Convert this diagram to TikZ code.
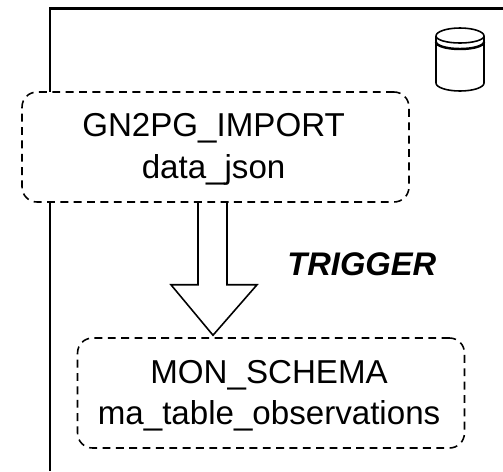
\documentclass[tikz,border=0pt]{standalone}
\usepackage{fontspec}
\setmainfont{Liberation Sans}
\newcommand{\lineshift}{\kern2.2pt}
\newcommand{\linedrop}{\rule{0pt}{16pt}}
\tikzset{
    tablebox/.style={draw,fill=white,line width=0.9pt,dash pattern=on 4.5pt off 3.1pt,
        rounded corners=8.5pt,minimum width=7.74cm,minimum height=2.2cm,
        align=center,font=\fontsize{18.85}{23.5}\selectfont},
    frameline/.style={line width=1.15pt},
    arrowline/.style={line width=0.9pt,line join=miter}
}
\begin{document}
\begin{tikzpicture}[x=0.02cm,y=-0.02cm]
\useasboundingbox (0,0) rectangle (503,471);
\draw [frameline]
    (50,471) -- (50,8.5) -- (503,8.5);
\path
    (215.5,147) node [tablebox] (gnimport) {\linedrop GN2PG\_IMPORT\lineshift\\data\_json\lineshift}
    (271,393) node [tablebox] (monschema) {\linedrop MON\_SCHEMA\lineshift\\ma\_table\_observations\lineshift};
\path
    (287,264) node [anchor=west,font=\fontsize{18.6}{22}\selectfont\bfseries\itshape,inner sep=0pt] (trigger) {TRIGGER};
\draw
    [arrowline]
    (gnimport.south) +(-17.5,0) coordinate (sleft)
    (gnimport.south) +(11.5,0) coordinate (sright)
    (gnimport.south) +(-44.5,82) coordinate (hleft)
    (gnimport.south) +(41.5,82) coordinate (hright)
    (monschema.north) +(-58,-2) coordinate (tip)
    (sleft) -- +(0,82) -- (hleft) -- (tip) -- (hright) -- +(-30,0) -- (sright);
% database icon
\draw
    [line width=0.9pt]
    (436,36) arc [start angle=180,end angle=360,x radius=24,y radius=8]
    -- (484,83) arc [start angle=0,end angle=180,x radius=24,y radius=8]
    -- cycle
    (436,36) arc [start angle=180,end angle=0,x radius=24,y radius=7];
\draw
    [line width=1.4pt]
    (436,42) arc [start angle=180,end angle=0,x radius=24,y radius=7];
\end{tikzpicture}
\end{document}
